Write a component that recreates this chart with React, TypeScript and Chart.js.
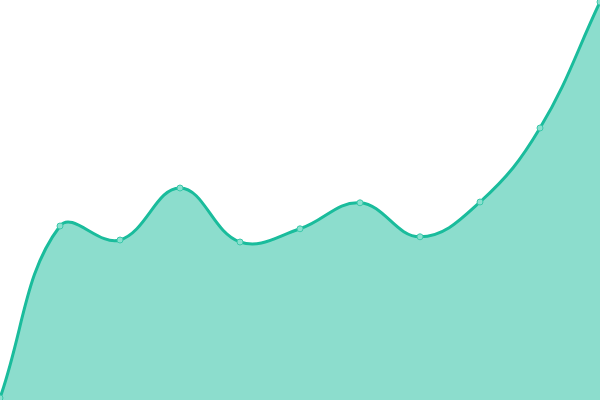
import { useEffect, useRef } from "react";
import { Chart, registerables } from "chart.js";

Chart.register(...registerables);

const labels = ["1", "2", "3", "4", "5", "6", "7", "8", "9", "10", "11"];
const values = [0.5, 43.5, 40, 53, 39.5, 42.8, 49.3, 40.8, 49.5, 68, 99.5];

export default function App() {
  const chartRef = useRef<HTMLCanvasElement>(null);
  const chartInstance = useRef<Chart | null>(null);

  useEffect(() => {
    document.body.style.margin = "0";
    if (!chartRef.current) return;
    if (chartInstance.current) chartInstance.current.destroy();

    chartInstance.current = new Chart(chartRef.current, {
      type: "line",
      data: {
        labels,
        datasets: [
          {
            data: values,
            borderColor: "#1abc9c",
            backgroundColor: "rgba(26, 188, 156, 0.5)",
            fill: true,
            tension: 0.4,
            borderWidth: 3,
            pointRadius: 3,
            pointBackgroundColor: "#8ae0cf",
            pointBorderColor: "#3cc8aa",
            pointBorderWidth: 1,
          },
        ],
      },
      options: {
        responsive: false,
        animation: false,
        layout: { padding: 0, autoPadding: false },
        plugins: {
          legend: { display: false },
          tooltip: { enabled: false },
        },
        scales: {
          x: { display: false, offset: false },
          y: { display: false, min: 0, max: 100 },
        },
      },
    });

    return () => {
      if (chartInstance.current) {
        chartInstance.current.destroy();
        chartInstance.current = null;
      }
    };
  }, []);

  return (
    <div style={{ width: 600, height: 400 }}>
      <canvas ref={chartRef} width={600} height={400} />
    </div>
  );
}
